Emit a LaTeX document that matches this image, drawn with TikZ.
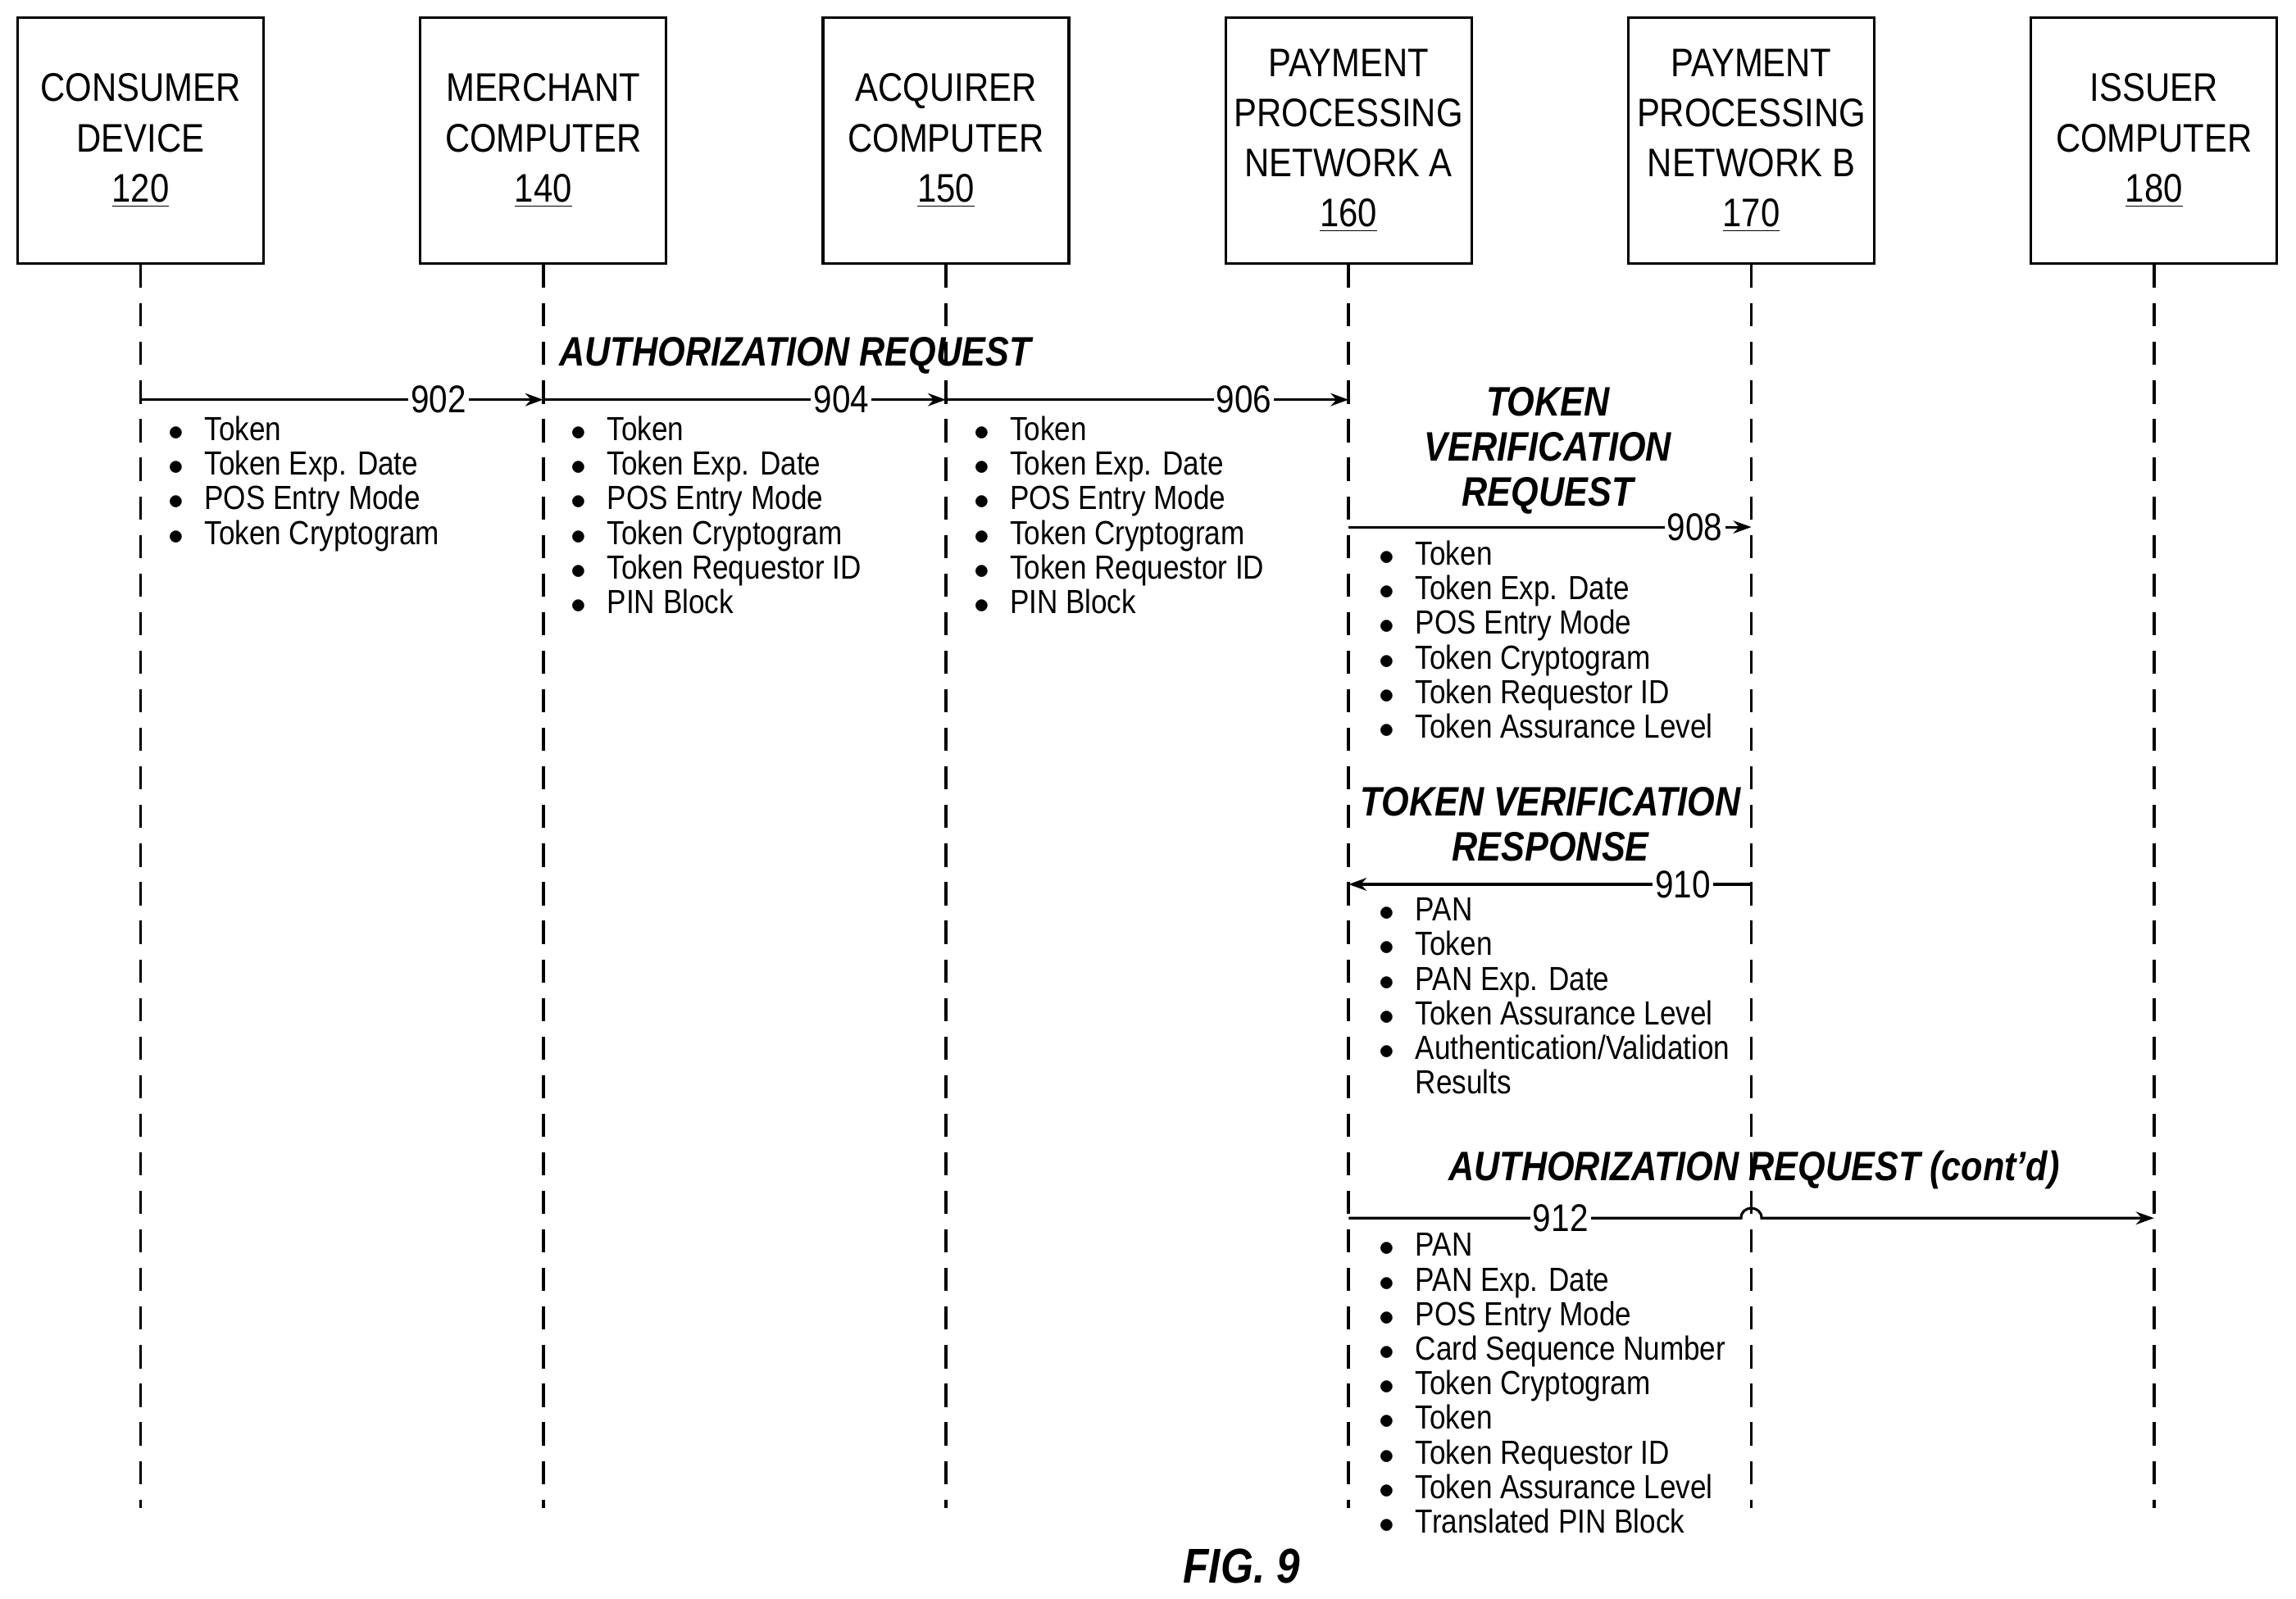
\documentclass[tikz,border=0pt]{standalone}
\usepackage{fontspec}
\setmainfont{Liberation Sans}[FakeStretch=0.86]
\usetikzlibrary{arrows.meta,positioning}

\tikzset{
  party/.style={draw,line width=1pt,minimum width=3.36cm,minimum height=3.36cm,
                inner sep=1pt,align=center,font=\fontsize{15.5}{19.5}\selectfont},
  life/.style={line width=1.2pt,dash pattern=on 9pt off 6pt},
  msg/.style={line width=1pt,-{Stealth[length=7pt,width=5pt]}},
  num/.style={fill=white,inner sep=1pt,font=\fontsize{15}{15}\selectfont},
  ttl/.style={font=\fontsize{16}{22.5}\selectfont\bfseries\itshape,align=center},
  items/.style={anchor=north west,inner sep=0pt,align=left,
                font=\fontsize{13}{13.45}\selectfont}
}
\newcommand{\bl}{\makebox[15pt][l]{\hspace{1pt}$\bullet$}}

\begin{document}
\begin{tikzpicture}[x=0.02cm,y=-0.02cm]
  \useasboundingbox (0,0) rectangle (1568,1092);

  % parties
  \node[party] (cd) at (96,96)   {CONSUMER\\DEVICE\\\underline{120}};
  \node[party] (mc) at (371,96)  {MERCHANT\\COMPUTER\\\underline{140}};
  \node[party] (ac) at (646,96)  {ACQUIRER\\COMPUTER\\\underline{150}};
  \node[party] (pa) at (921,96)  {PAYMENT\\PROCESSING\\NETWORK A\\\underline{160}};
  \node[party] (pb) at (1196,96) {PAYMENT\\PROCESSING\\NETWORK B\\\underline{170}};
  \node[party] (ic) at (1471,96) {ISSUER\\COMPUTER\\\underline{180}};

  % lifelines
  \foreach \p/\x in {cd/96,mc/371,ac/646,pa/921,pb/1196,ic/1471}{
    \coordinate (\p end) at (\x,1030);
    \draw[life] (\p.south) -- (\p end);
  }

  % authorization request
  \node[ttl] (t1) at (543,243) {AUTHORIZATION REQUEST};
  \coordinate (cd902) at (96,273);  \coordinate (mc902) at (371,273);
  \coordinate (ac904) at (646,273); \coordinate (pa906) at (921,273);
  \draw[msg] (cd902) -- node[num,pos=0.74] {902} (mc902);
  \draw[msg] (mc902) -- node[num,pos=0.74] {904} (ac904);
  \draw[msg] (ac904) -- node[num,pos=0.74] {906} (pa906);

  \node[items] (l902) at (113,284) {\bl Token\\\bl Token Exp. Date\\\bl POS Entry Mode\\\bl Token Cryptogram};
  \node[items] (l904) at (388,284) {\bl Token\\\bl Token Exp. Date\\\bl POS Entry Mode\\\bl Token Cryptogram\\\bl Token Requestor ID\\\bl PIN Block};
  \node[items] (l906) at (663,284) {\bl Token\\\bl Token Exp. Date\\\bl POS Entry Mode\\\bl Token Cryptogram\\\bl Token Requestor ID\\\bl PIN Block};

  % token verification request
  \node[ttl,font=\fontsize{16}{17.5}\selectfont\bfseries\itshape] (t2) at (1057,308) {TOKEN\\VERIFICATION\\REQUEST};
  \coordinate (pa908) at (921,360); \coordinate (pb908) at (1196,360);
  \draw[msg] (pa908) -- node[num,pos=0.86] {908} (pb908);
  \node[items] (l908) at (940,369) {\bl Token\\\bl Token Exp. Date\\\bl POS Entry Mode\\\bl Token Cryptogram\\\bl Token Requestor ID\\\bl Token Assurance Level};

  % token verification response
  \node[ttl,font=\fontsize{16}{17.5}\selectfont\bfseries\itshape] (t3) at (1059,563) {TOKEN VERIFICATION\\RESPONSE};
  \coordinate (pb910) at (1196,604); \coordinate (pa910) at (921,604);
  \draw[msg] (pb910) -- node[num,pos=0.17] {910} (pa910);
  \node[items] (l910) at (940,613) {\bl PAN\\\bl Token\\\bl PAN Exp. Date\\\bl Token Assurance Level\\\bl Authentication/Validation\\\hphantom{\bl}Results};

  % authorization request (cont'd)
  \node[ttl] (t4) at (1198,799) {AUTHORIZATION REQUEST (cont'd)};
  \coordinate (pa912) at (921,832); \coordinate (ic912) at (1471,832);
  \draw[msg] (pa912) -- node[num,pos=0.54] {912} (1189,832)
        .. controls (1189,823) and (1203,823) .. (1203,832) -- (ic912);
  \node[items] (l912) at (940,842) {\bl PAN\\\bl PAN Exp. Date\\\bl POS Entry Mode\\\bl Card Sequence Number\\\bl Token Cryptogram\\\bl Token\\\bl Token Requestor ID\\\bl Token Assurance Level\\\bl Translated PIN Block};

  \node[ttl,font=\fontsize{19}{19}\selectfont\bfseries\itshape] (fig) at (848,1070) {FIG. 9};
\end{tikzpicture}
\end{document}
